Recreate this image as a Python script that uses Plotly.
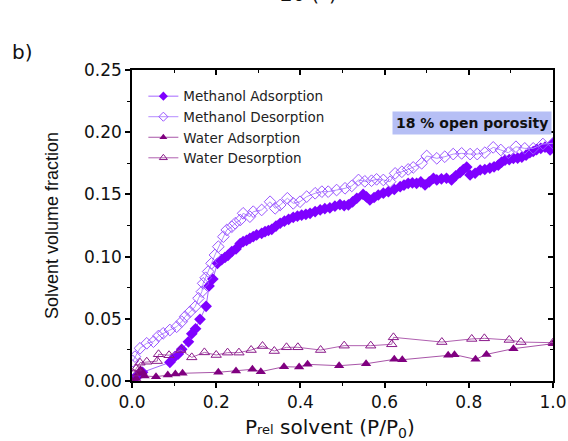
import plotly.graph_objects as go

# ---------------- data ----------------
meoh_ads_p = [0.000, 0.005, 0.010, 0.015, 0.020, 0.025, 0.090, 0.102, 0.110, 0.118, 0.134, 0.142, 0.151, 0.1615,
              0.176, 0.183, 0.192, 0.203, 0.213, 0.221, 0.228, 0.237, 0.247, 0.257, 0.264, 0.272, 0.280, 0.288,
              0.296, 0.308, 0.316, 0.324, 0.332, 0.342, 0.352, 0.362, 0.372, 0.383, 0.393, 0.403, 0.413, 0.423,
              0.435, 0.447, 0.458, 0.470, 0.482, 0.494, 0.504, 0.514, 0.524, 0.534, 0.549, 0.557, 0.565, 0.575,
              0.585, 0.597, 0.609, 0.623, 0.637, 0.646, 0.656, 0.666, 0.676, 0.686, 0.696, 0.706, 0.716, 0.724,
              0.735, 0.747, 0.759, 0.769, 0.779, 0.787, 0.795, 0.803, 0.815, 0.827, 0.838, 0.850, 0.860, 0.870,
              0.878, 0.886, 0.896, 0.906, 0.916, 0.926, 0.936, 0.945, 0.953, 0.961, 0.971, 0.981, 0.993, 1.000]
meoh_ads_v = [0.000, 0.002, 0.004, 0.005, 0.006, 0.007, 0.0150, 0.0196, 0.0217, 0.0255, 0.0315, 0.0380, 0.0420, 0.0496,
              0.0600, 0.0764, 0.0820, 0.0946, 0.0975, 0.0994, 0.1010, 0.1040, 0.1062, 0.1105, 0.1120, 0.1130, 0.1147, 0.1160,
              0.1174, 0.1187, 0.1200, 0.1210, 0.1219, 0.1245, 0.1268, 0.1285, 0.1300, 0.1316, 0.1325, 0.1334, 0.1340, 0.1348,
              0.1362, 0.1375, 0.1385, 0.1392, 0.1405, 0.1418, 0.1410, 0.1415, 0.1440, 0.1469, 0.1500, 0.1480, 0.1455, 0.1475,
              0.1495, 0.1510, 0.1522, 0.1540, 0.1562, 0.1575, 0.1589, 0.1592, 0.1589, 0.1600, 0.1576, 0.1600, 0.1630, 0.1616,
              0.1625, 0.1630, 0.1616, 0.1650, 0.1675, 0.1700, 0.1720, 0.1656, 0.1670, 0.1696, 0.1700, 0.1712, 0.1722, 0.1735,
              0.1760, 0.1775, 0.1780, 0.1790, 0.1792, 0.1800, 0.1815, 0.1835, 0.1845, 0.1860, 0.1870, 0.1880, 0.1857, 0.1911]

meoh_des_p = [1.000, 0.976, 0.953, 0.933, 0.912, 0.894, 0.876, 0.858, 0.838, 0.820, 0.803, 0.783, 0.763, 0.743,
              0.724, 0.700, 0.688, 0.668, 0.656, 0.641, 0.625, 0.613, 0.597, 0.581, 0.569, 0.553, 0.538, 0.522,
              0.506, 0.486, 0.466, 0.451, 0.435, 0.415, 0.399, 0.383, 0.369, 0.352, 0.340, 0.328, 0.308, 0.288,
              0.280, 0.264, 0.257, 0.245, 0.237, 0.225, 0.217, 0.205, 0.197, 0.189, 0.181, 0.175, 0.169, 0.166,
              0.158, 0.150, 0.138, 0.126, 0.118, 0.106, 0.090, 0.074, 0.063, 0.051, 0.035, 0.019, 0.007, 0.002]
meoh_des_v = [0.1911, 0.1905, 0.1870, 0.1870, 0.1883, 0.1835, 0.1857, 0.1878, 0.1835, 0.1824, 0.1824, 0.1830, 0.1824, 0.1803,
              0.1790, 0.1809, 0.1750, 0.1717, 0.1701, 0.1682, 0.1669, 0.1602, 0.1616, 0.1621, 0.1610, 0.1605, 0.1616, 0.1568,
              0.1549, 0.1535, 0.1522, 0.1522, 0.1509, 0.1482, 0.1441, 0.1428, 0.1469, 0.1415, 0.1388, 0.1441, 0.1375, 0.1361,
              0.1321, 0.1348, 0.1294, 0.1268, 0.1240, 0.1214, 0.1160, 0.1080, 0.1013, 0.0946, 0.0880, 0.0830, 0.0785, 0.0718,
              0.0665, 0.0597, 0.0557, 0.0517, 0.0477, 0.0436, 0.0410, 0.0383, 0.0362, 0.0316, 0.0303, 0.0263, 0.0196, 0.0160]

water_ads_p = [0.000, 0.010, 0.015, 0.020, 0.025, 0.030, 0.057, 0.085, 0.103, 0.120, 0.205, 0.247, 0.286, 0.306,
               0.361, 0.397, 0.417, 0.492, 0.556, 0.623, 0.642, 0.751, 0.766, 0.816, 0.842, 0.906, 1.000]
water_ads_v = [0.000, 0.002, 0.006, 0.009, 0.007, 0.004, 0.0035, 0.0048, 0.0056, 0.0062, 0.0070, 0.0080, 0.0094, 0.0075,
               0.0115, 0.0112, 0.0134, 0.0123, 0.0139, 0.0174, 0.0171, 0.0206, 0.0212, 0.0174, 0.0214, 0.0260, 0.0300]

water_des_p = [1.000, 0.924, 0.896, 0.837, 0.807, 0.736, 0.621, 0.617, 0.567, 0.504, 0.448, 0.394, 0.367, 0.338,
               0.310, 0.283, 0.254, 0.227, 0.200, 0.172, 0.142, 0.116, 0.088, 0.063, 0.060, 0.035, 0.019, 0.010, 0.004]
water_des_v = [0.0308, 0.0313, 0.0330, 0.0343, 0.0338, 0.0313, 0.0351, 0.0295, 0.0284, 0.0284, 0.0249, 0.0271, 0.0271, 0.0241,
               0.0281, 0.0249, 0.0228, 0.0228, 0.0209, 0.0230, 0.0190, 0.0249, 0.0207, 0.0215, 0.0160, 0.0155, 0.0147, 0.0100, 0.0060]

series_names = ["Methanol Adsorption", "Methanol Desorption", "Water Adsorption", "Water Desorption"]
x_tick_vals = [0, 0.2, 0.4, 0.6, 0.8, 1.0]
x_tick_text = ["0.0", "0.2", "0.4", "0.6", "0.8", "1.0"]
y_tick_vals = [0, 0.05, 0.10, 0.15, 0.20, 0.25]
y_tick_text = ["0.00", "0.05", "0.10", "0.15", "0.20", "0.25"]
x_title = "P<span style='font-size:13px'>rel</span> solvent (P/P<sub>0</sub>)"
y_title = "Solvent volume fraction"
note_text = "<b>18 % open porosity</b>"

WIDE = "DejaVu Sans, Verdana, sans-serif"
NARROW = "Arial, Liberation Sans, sans-serif"

styles = [
    dict(line=dict(color="#a466ff", width=1), marker=dict(symbol="diamond", color="#7f00ff", line=dict(width=0))),
    dict(line=dict(color="#b48cff", width=1), marker=dict(symbol="diamond-open", color="#9a55ff", line=dict(width=1))),
    dict(line=dict(color="#a855a8", width=1), marker=dict(symbol="triangle-up", color="#800080", line=dict(width=0))),
    dict(line=dict(color="#b060b0", width=1), marker=dict(symbol="triangle-up-open", color="#8a1a8a", line=dict(width=1))),
]
data = [(meoh_ads_p, meoh_ads_v), (meoh_des_p, meoh_des_v), (water_ads_p, water_ads_v), (water_des_p, water_des_v)]

fig = go.Figure()
for (xs, ys), st, nm in zip(data, styles, series_names):
    fig.add_trace(go.Scatter(x=xs, y=ys, mode="lines+markers", name=nm, showlegend=False,
                             line=st["line"], marker=dict(size=9, **st["marker"])))
# legend entries with small markers, as in the reference
for st, nm in zip(styles, series_names):
    fig.add_trace(go.Scatter(x=[None], y=[None], mode="lines+markers", name=nm,
                             line=st["line"], marker=dict(size=7, **st["marker"])))
# empty trace to activate the mirror axes
fig.add_trace(go.Scatter(x=[], y=[], xaxis="x2", yaxis="y2", showlegend=False, hoverinfo="skip"))

fig.update_layout(
    width=568, height=441,
    margin=dict(l=132, r=15, t=70, b=60, autoexpand=False),
    paper_bgcolor="white", plot_bgcolor="white",
    font=dict(family=NARROW, color="#111"),
    showlegend=True,
    legend=dict(x=0.027, y=0.965, xanchor="left", yanchor="top", bgcolor="rgba(255,255,255,0)",
                font=dict(family=WIDE, size=13.5, color="#222"), tracegroupgap=0, itemwidth=30),
    xaxis=dict(range=[0, 1], tickvals=x_tick_vals, ticktext=x_tick_text, automargin=False,
               ticks="outside", ticklen=5, tickwidth=1.5, tickcolor="black",
               minor=dict(dtick=0.1, ticks="outside", ticklen=3, tickwidth=1.2, tickcolor="black"),
               showline=True, linecolor="black", linewidth=1.5, showgrid=False, zeroline=False,
               tickfont=dict(size=17, family=WIDE, color="#111")),
    yaxis=dict(range=[0, 0.25], tickvals=y_tick_vals, ticktext=y_tick_text, automargin=False,
               ticks="outside", ticklen=5, tickwidth=1.5, tickcolor="black",
               minor=dict(dtick=0.025, ticks="outside", ticklen=3, tickwidth=1.2, tickcolor="black"),
               showline=True, linecolor="black", linewidth=1.5, showgrid=False, zeroline=False,
               tickfont=dict(size=17, family=WIDE, color="#111"),
               title=dict(text=y_title, font=dict(size=18, family=NARROW, color="#111"), standoff=21)),
    xaxis2=dict(overlaying="x", side="top", range=[0, 1], dtick=0.2, showticklabels=False, automargin=False,
                ticks="inside", ticklen=5, tickwidth=1.5, tickcolor="black",
                minor=dict(dtick=0.1, ticks="inside", ticklen=3, tickwidth=1.2, tickcolor="black"),
                showline=True, linecolor="black", linewidth=1.5, showgrid=False, zeroline=False),
    yaxis2=dict(overlaying="y", side="right", range=[0, 0.25], dtick=0.05, showticklabels=False, automargin=False,
                ticks="inside", ticklen=5, tickwidth=1.5, tickcolor="black",
                minor=dict(dtick=0.025, ticks="inside", ticklen=3, tickwidth=1.2, tickcolor="black"),
                showline=True, linecolor="black", linewidth=1.5, showgrid=False, zeroline=False),
    annotations=[
        dict(text=note_text, xref="paper", yref="paper", x=0.808, y=0.831,
             xanchor="center", yanchor="middle", showarrow=False, bgcolor="#b6bff5",
             font=dict(size=14, family=WIDE, color="#111"), borderpad=3),
        dict(text=x_title, xref="paper", yref="paper", x=0.47, y=-0.151, xanchor="center", yanchor="middle",
             showarrow=False, font=dict(size=20, family=WIDE, color="#111")),
        dict(text="b)", xref="paper", yref="paper", x=-0.261, y=1.058, xanchor="center", yanchor="middle",
             showarrow=False, font=dict(size=20, family=WIDE, color="#111")),
        dict(text="2θ (°)", xref="paper", yref="paper", x=0.42, y=1.245, xanchor="center", yanchor="middle",
             showarrow=False, font=dict(size=20, family=WIDE, color="#111")),
    ],
)

fig.write_html("out.html", config={"displayModeBar": False},
               post_script="document.body.style.margin='0';")
